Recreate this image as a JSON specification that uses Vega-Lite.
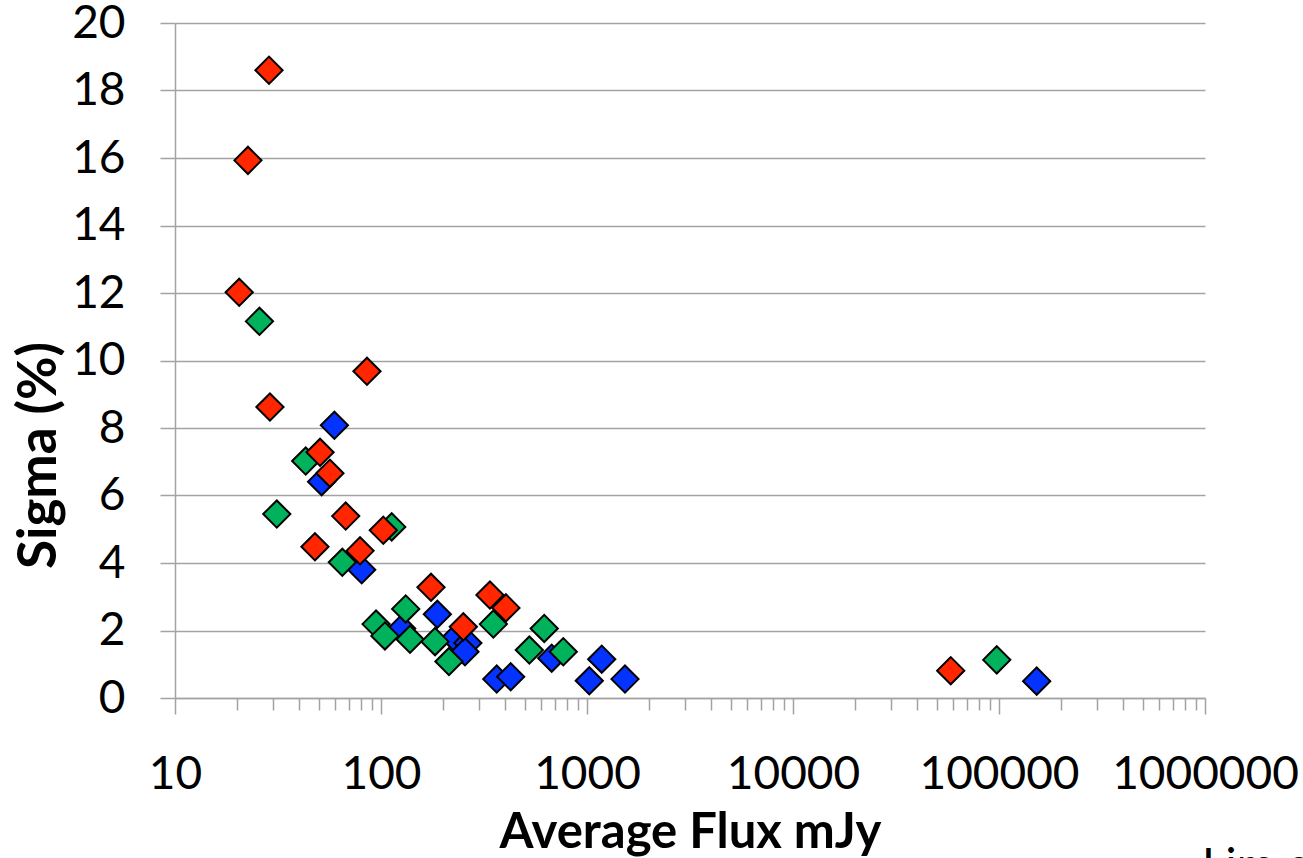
{
  "$schema": "https://vega.github.io/schema/vega-lite/v6.json",
  "width": 1030,
  "height": 675,
  "autosize": "none",
  "padding": {"left": 175, "top": 23, "right": 98, "bottom": 160},
  "background": "white",
  "title": {
    "text": "Lim et al.",
    "orient": "bottom",
    "anchor": "end",
    "frame": "group",
    "align": "left",
    "baseline": "top",
    "font": "Lato",
    "fontSize": 46,
    "fontWeight": "normal",
    "color": "black",
    "offset": -12,
    "dx": -3
  },
  "data": {
    "values": [
      {"series": "A", "flux": 59.4, "sigma": 8.08},
      {"series": "A", "flux": 51.5, "sigma": 6.41},
      {"series": "A", "flux": 80.6, "sigma": 3.8},
      {"series": "A", "flux": 126, "sigma": 2.06},
      {"series": "A", "flux": 187.7, "sigma": 2.48},
      {"series": "A", "flux": 228.6, "sigma": 1.77},
      {"series": "A", "flux": 264, "sigma": 1.63},
      {"series": "A", "flux": 255.6, "sigma": 1.37},
      {"series": "A", "flux": 364.5, "sigma": 0.56},
      {"series": "A", "flux": 426, "sigma": 0.63},
      {"series": "A", "flux": 674, "sigma": 1.18},
      {"series": "A", "flux": 1026, "sigma": 0.51},
      {"series": "A", "flux": 1179, "sigma": 1.15},
      {"series": "A", "flux": 1529, "sigma": 0.56},
      {"series": "A", "flux": 152400, "sigma": 0.5},
      {"series": "B", "flux": 25.7, "sigma": 11.16},
      {"series": "B", "flux": 43.1, "sigma": 7.02},
      {"series": "B", "flux": 31.2, "sigma": 5.45},
      {"series": "B", "flux": 112.7, "sigma": 5.07},
      {"series": "B", "flux": 64.9, "sigma": 4.02},
      {"series": "B", "flux": 94.6, "sigma": 2.19},
      {"series": "B", "flux": 104.5, "sigma": 1.84},
      {"series": "B", "flux": 131.8, "sigma": 2.64},
      {"series": "B", "flux": 138.3, "sigma": 1.74},
      {"series": "B", "flux": 182.9, "sigma": 1.67},
      {"series": "B", "flux": 213.8, "sigma": 1.08},
      {"series": "B", "flux": 351, "sigma": 2.19},
      {"series": "B", "flux": 620, "sigma": 2.06},
      {"series": "B", "flux": 525, "sigma": 1.42},
      {"series": "B", "flux": 767, "sigma": 1.37},
      {"series": "B", "flux": 97500, "sigma": 1.13},
      {"series": "C", "flux": 28.6, "sigma": 18.6},
      {"series": "C", "flux": 22.6, "sigma": 15.93},
      {"series": "C", "flux": 20.5, "sigma": 12.02},
      {"series": "C", "flux": 28.9, "sigma": 8.62},
      {"series": "C", "flux": 85.5, "sigma": 9.68},
      {"series": "C", "flux": 50.6, "sigma": 7.28},
      {"series": "C", "flux": 56.5, "sigma": 6.66},
      {"series": "C", "flux": 67.4, "sigma": 5.39},
      {"series": "C", "flux": 47.8, "sigma": 4.48},
      {"series": "C", "flux": 79.1, "sigma": 4.36},
      {"series": "C", "flux": 102.6, "sigma": 4.97},
      {"series": "C", "flux": 174.9, "sigma": 3.28},
      {"series": "C", "flux": 338, "sigma": 3.05},
      {"series": "C", "flux": 404, "sigma": 2.67},
      {"series": "C", "flux": 251, "sigma": 2.11},
      {"series": "C", "flux": 58300, "sigma": 0.81}
    ]
  },
  "mark": {"type": "point", "shape": "diamond", "filled": true, "size": 740, "stroke": "black", "strokeWidth": 2, "opacity": 1},
  "encoding": {
    "x": {
      "field": "flux",
      "type": "quantitative",
      "scale": {"type": "log", "domain": [10, 1000000], "nice": false},
      "axis": {
        "title": "Average Flux mJy",
        "grid": false,
        "values": [10,20,30,40,50,60,70,80,90,100,200,300,400,500,600,700,800,900,1000,2000,3000,4000,5000,6000,7000,8000,9000,10000,20000,30000,40000,50000,60000,70000,80000,90000,100000,200000,300000,400000,500000,600000,700000,800000,900000,1000000],
        "format": "d",
        "labelExpr": "indexof([10,100,1000,10000,100000,1000000], datum.value) >= 0 ? datum.label : ''",
        "labelOverlap": false,
        "labelBound": false,
        "labelFlush": false,
        "labelLimit": 0,
        "tickSize": {"condition": {"test": "indexof([10,100,1000,10000,100000,1000000], datum.value) >= 0", "value": 16}, "value": 12},
        "tickColor": "#a3a3a3",
        "tickWidth": 1.5,
        "domainColor": "#a3a3a3",
        "domainWidth": 1.5,
        "labelFont": "Lato",
        "labelFontSize": 46,
        "labelColor": "black",
        "labelPadding": 38,
        "titleFont": "Lato",
        "titleFontSize": 49,
        "titleFontWeight": "bold",
        "titleColor": "black",
        "titlePadding": 11
      }
    },
    "y": {
      "field": "sigma",
      "type": "quantitative",
      "scale": {"domain": [0, 20], "nice": false},
      "axis": {
        "title": "Sigma (%)",
        "values": [0,2,4,6,8,10,12,14,16,18,20],
        "grid": true,
        "gridColor": "#a3a3a3",
        "gridWidth": 1.5,
        "tickSize": 15,
        "tickColor": "#a3a3a3",
        "tickWidth": 1.5,
        "domainColor": "#a3a3a3",
        "domainWidth": 1.5,
        "labelFont": "Lato",
        "labelFontSize": 46,
        "labelColor": "black",
        "labelPadding": 35,
        "titleFont": "Lato",
        "titleFontSize": 53,
        "titleFontWeight": "bold",
        "titleColor": "black",
        "titlePadding": 5,
        "titleY": 432
      }
    },
    "color": {
      "field": "series",
      "type": "nominal",
      "scale": {"domain": ["A", "B", "C"], "range": ["#0433FF", "#00B25C", "#FF2600"]},
      "legend": null
    }
  },
  "config": {"view": {"stroke": null}}
}
